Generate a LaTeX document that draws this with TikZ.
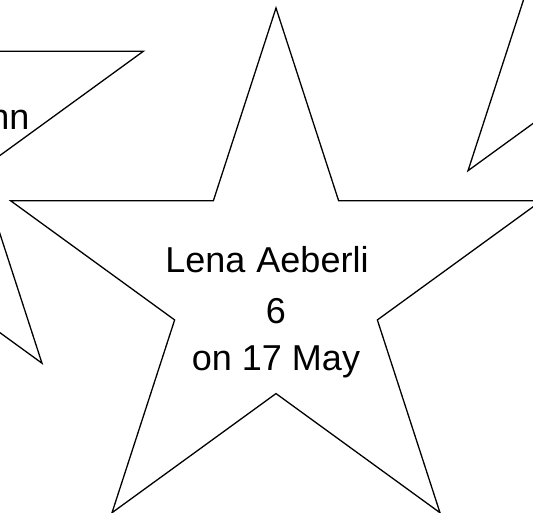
\documentclass[tikz,border=0pt]{standalone}
\usepackage{fontspec}
\setmainfont{Liberation Sans}
\usetikzlibrary{shapes.geometric}
\begin{document}
\begin{tikzpicture}[x=1pt,y=-1pt,
  bday/.style={draw,line width=1.3pt,star,star points=5,star point ratio=2.618,minimum size=558pt,inner sep=0pt},
  txt/.style={anchor=base,inner sep=0pt,font=\fontsize{36}{36}\selectfont}]
\useasboundingbox (0,0) rectangle (533,513);
\clip (0,0) rectangle (533,513);
\node[bday] (lena) at (276,287) {};
\node[bday] (starwest) at (-122,137.5) {};
\node[bday] (stareast) at (632,-55) {};
\node[txt] (lenaname) at (267,272.3) {Lena\hspace{1pt} Aeberli};
\node[txt] (lenaage) at (276,323.3) {6};
\node[txt] (lenadate) at (276,370) {on 17 May};
\node[txt,anchor=base east] (westname) at (29.5,129.3) {nn};
\end{tikzpicture}
\end{document}
